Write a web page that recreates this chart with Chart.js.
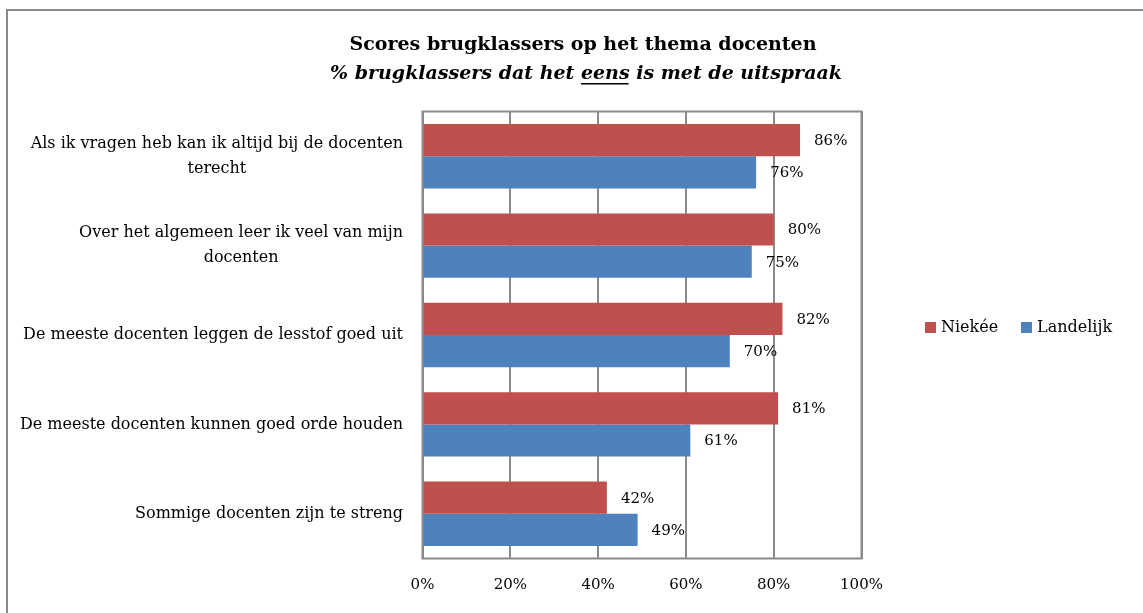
<!DOCTYPE html>
<html>
<head>
<meta charset="utf-8">
<script src="https://cdn.jsdelivr.net/npm/chart.js@4.4.0/dist/chart.umd.min.js"></script>
<style>
  html, body { margin: 0; padding: 0; background: #fff; }
  #wrap { width: 1143px; height: 613px; position: relative; }
</style>
</head>
<body>
<div id="wrap"><canvas id="chart"></canvas></div>
<script>
// Scores brugklassers - thema docenten

const categories = [
  ['Als ik vragen heb kan ik altijd bij de docenten', 'terecht'],
  ['Over het algemeen leer ik veel van mijn', 'docenten'],
  ['De meeste docenten leggen de lesstof goed uit'],
  ['De meeste docenten kunnen goed orde houden'],
  ['Sommige docenten zijn te streng']
];
const seriesNames = ['Niekée', 'Landelijk'];
const niekee = [86, 80, 82, 81, 42];
const landelijk = [76, 75, 70, 61, 49];
const xTicks = [0, 20, 40, 60, 80, 100];
const titleLine1 = 'Scores brugklassers op het thema docenten';
const titleLine2 = ['% brugklassers dat het ', 'eens', ' is met de uitspraak'];

const FONT = 'DejaVu Serif';
const RED = '#C0504D';
const BLUE = '#4F81BD';
const GRID = '#8a8a8a';

// Extra drawing: frames, title, category labels, value labels, legend
const decor = {
  id: 'decor',
  afterDatasetsDraw(chart) {
    const { ctx, chartArea: a } = chart;
    ctx.save();
    ctx.strokeStyle = GRID;
    ctx.lineWidth = 2;
    ctx.strokeRect(a.left, a.top, a.right - a.left, a.bottom - a.top);

    // value labels
    ctx.font = '15px "' + FONT + '"';
    ctx.fillStyle = '#000';
    ctx.textAlign = 'left';
    ctx.textBaseline = 'middle';
    chart.data.datasets.forEach((ds, di) => {
      chart.getDatasetMeta(di).data.forEach((bar, i) => {
        ctx.fillText(ds.data[i] + '%', bar.x + 14, bar.y + 1);
      });
    });
    ctx.restore();
  },
  afterDraw(chart) {
    const { ctx } = chart;
    const yScale = chart.scales.y;
    ctx.save();

    // outer frame (only top and left are inside the picture)
    ctx.strokeStyle = GRID;
    ctx.lineWidth = 2;
    ctx.beginPath();
    ctx.moveTo(7, 613);
    ctx.lineTo(7, 10);
    ctx.lineTo(1143, 10);
    ctx.stroke();

    // title
    ctx.fillStyle = '#000';
    ctx.textBaseline = 'alphabetic';
    ctx.textAlign = 'center';
    ctx.font = 'bold 19px "' + FONT + '"';
    ctx.fillText(titleLine1, 583, 50);

    ctx.font = 'italic bold 19px "' + FONT + '"';
    const w = titleLine2.map(t => ctx.measureText(t).width);
    const total = w.reduce((s, v) => s + v, 0);
    let x = 586 - total / 2;
    ctx.textAlign = 'left';
    titleLine2.forEach((t, i) => {
      ctx.fillText(t, x, 79);
      if (t === 'eens') {
        ctx.fillRect(x, 83, w[i] - 1, 1.5);
      }
      x += w[i];
    });

    // category labels: block right aligned, lines centred in block
    ctx.font = '16px "' + FONT + '"';
    ctx.textAlign = 'center';
    ctx.textBaseline = 'middle';
    const lineH = 25;
    categories.forEach((lines, i) => {
      const yc = yScale.getPixelForTick(i);
      const bw = Math.max(...lines.map(l => ctx.measureText(l).width));
      const cx = 403 - bw / 2;
      const y0 = yc - (lines.length - 1) * lineH / 2;
      lines.forEach((l, j) => ctx.fillText(l, cx, y0 + j * lineH));
    });

    // legend
    ctx.textAlign = 'left';
    const legendX = [925, 1021];
    chart.data.datasets.forEach((ds, di) => {
      ctx.fillStyle = ds.backgroundColor;
      ctx.fillRect(legendX[di], 322, 11, 11);
      ctx.fillStyle = '#000';
      ctx.fillText(ds.label, legendX[di] + 16, 328);
    });
    ctx.restore();
  }
};

new Chart(document.getElementById('chart'), {
  type: 'bar',
  data: {
    labels: categories,
    datasets: [
      { label: seriesNames[0], data: niekee, backgroundColor: RED },
      { label: seriesNames[1], data: landelijk, backgroundColor: BLUE }
    ]
  },
  options: {
    indexAxis: 'y',
    responsive: true,
    maintainAspectRatio: false,
    animation: false,
    devicePixelRatio: 1,
    layout: { padding: { top: 111.5, left: 422.5, right: 281.5, bottom: 0.5 } },
    datasets: { bar: { categoryPercentage: 0.72, barPercentage: 1 } },
    plugins: {
      legend: { display: false },
      title: { display: false },
      tooltip: { enabled: false }
    },
    scales: {
      x: {
        min: 0,
        max: 100,
        afterBuildTicks: scale => { scale.ticks = xTicks.map(v => ({ value: v })); },
        grid: { color: GRID, lineWidth: 2, drawTicks: false },
        border: { display: false },
        ticks: {
          padding: 18,
          color: '#000',
          font: { family: FONT, size: 15 },
          callback: v => v + '%'
        }
      },
      y: {
        ticks: { display: false },
        grid: { display: false, drawTicks: false },
        border: { display: false }
      }
    }
  },
  plugins: [decor]
});
</script>
</body>
</html>
